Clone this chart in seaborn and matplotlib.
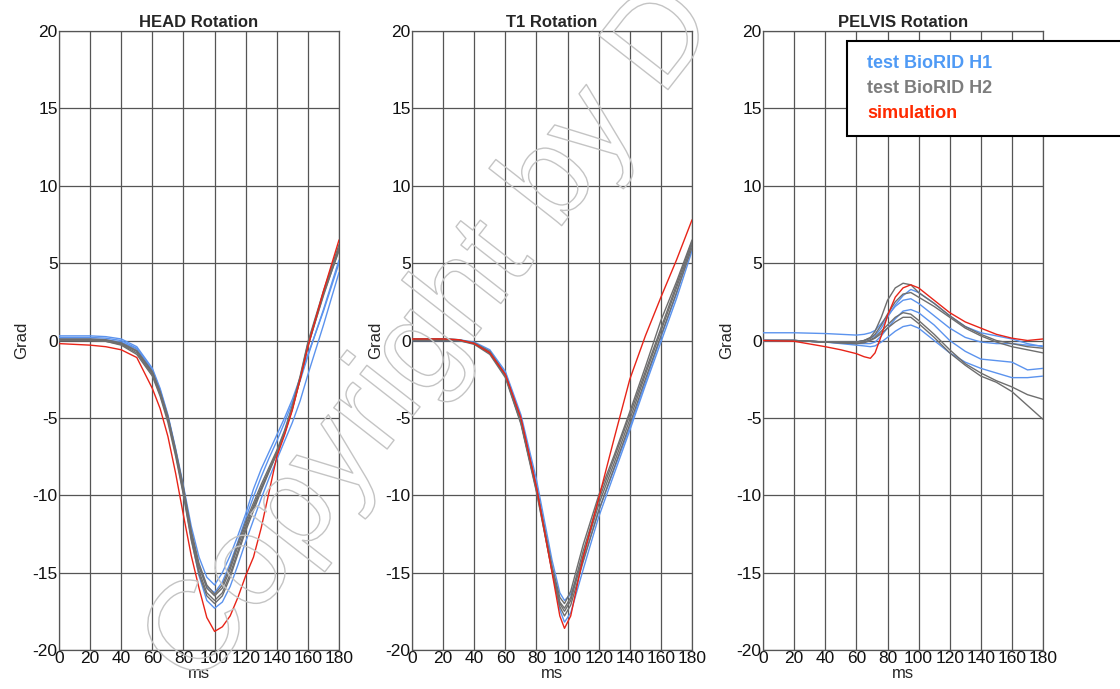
import seaborn as sns
import matplotlib.pyplot as plt
import matplotlib.patheffects as pe
from matplotlib.patches import Rectangle
import pandas as pd

# curve values (ms, Grad)
head_ms = [0, 20, 30, 40, 50, 60, 65, 70, 75, 80, 85, 90, 95, 100, 105, 110, 115, 120, 125, 130, 135, 140, 145, 150, 155, 160, 170, 180]
head_sim = [-0.2, -0.3, -0.4, -0.6, -1.1, -3.1, -4.4, -6.2, -8.6, -11.3, -13.9, -16.0, -17.9, -18.8, -18.5, -17.8, -16.6, -15.2, -14.0, -12.1, -9.8, -7.5, -6.1, -4.5, -2.5, -0.4, 3.2, 6.5]
head_h1 = [
    [0.3, 0.3, 0.25, 0.1, -0.4, -1.8, -3.1, -4.8, -7.0, -9.4, -12.0, -14.0, -15.3, -15.8, -15.0, -13.9, -12.6, -11.2, -9.6, -8.3, -7.2, -6.1, -5.0, -3.8, -2.4, -0.9, 1.9, 5.0],
    [0.1, 0.1, 0.05, -0.1, -0.55, -2.0, -3.3, -5.0, -7.3, -9.9, -12.8, -15.2, -16.8, -17.3, -16.9, -15.9, -14.5, -13.0, -11.6, -10.2, -8.9, -7.7, -6.5, -5.3, -3.9, -2.2, 1.0, 4.4],
    [0.2, 0.2, 0.15, 0.0, -0.5, -1.9, -3.2, -4.9, -7.1, -9.6, -12.4, -14.6, -15.9, -16.3, -15.6, -14.4, -13.0, -11.5, -10.1, -8.8, -7.6, -6.5, -5.3, -4.0, -2.6, -1.0, 2.0, 5.2],
]
head_h2 = [
    [0.05, 0.05, 0.0, -0.2, -0.7, -2.1, -3.4, -5.0, -7.2, -9.6, -12.5, -14.6, -16.0, -16.5, -16.0, -14.8, -13.3, -11.9, -10.7, -9.5, -8.4, -7.3, -6.0, -4.4, -2.5, -0.4, 3.0, 5.8],
    [0.0, 0.0, -0.05, -0.25, -0.8, -2.2, -3.5, -5.1, -7.3, -9.8, -12.7, -14.9, -16.3, -16.8, -16.3, -15.1, -13.6, -12.1, -10.8, -9.6, -8.4, -7.2, -5.9, -4.3, -2.4, -0.2, 3.1, 6.0],
    [0.0, 0.0, -0.05, -0.3, -0.9, -2.3, -3.6, -5.3, -7.5, -10.0, -12.9, -15.1, -16.5, -17.0, -16.5, -15.3, -13.8, -12.3, -11.0, -9.7, -8.5, -7.3, -6.0, -4.4, -2.5, -0.3, 2.9, 5.9],
    [0.1, 0.1, 0.05, -0.15, -0.65, -2.0, -3.3, -4.9, -7.1, -9.5, -12.3, -14.4, -15.8, -16.4, -15.8, -14.6, -13.1, -11.7, -10.5, -9.3, -8.2, -7.1, -5.8, -4.2, -2.3, -0.1, 3.2, 6.2],
]

t1_ms = [0, 20, 30, 40, 50, 60, 70, 80, 90, 95, 98, 102, 110, 120, 130, 140, 150, 160, 170, 180]
t1_sim = [0.1, 0.1, 0.05, -0.2, -0.8, -2.2, -5.0, -9.5, -15.0, -17.8, -18.6, -17.8, -14.0, -10.2, -6.3, -2.5, 0.3, 2.8, 5.2, 7.8]
t1_h1 = [
    [0.1, 0.1, 0.05, -0.1, -0.6, -2.0, -4.8, -9.0, -14.2, -16.3, -16.8, -16.4, -14.2, -11.0, -8.3, -5.6, -2.7, 0.2, 3.0, 6.3],
    [0.0, 0.0, 0.0, -0.15, -0.7, -2.1, -5.0, -9.3, -14.8, -17.4, -18.2, -17.6, -14.8, -11.4, -8.6, -5.8, -2.9, -0.1, 2.7, 5.8],
]
t1_h2 = [
    [0.1, 0.1, 0.05, -0.2, -0.8, -2.3, -5.3, -9.6, -14.6, -16.6, -17.0, -16.2, -13.2, -10.0, -7.4, -4.6, -1.7, 1.3, 3.8, 6.5],
    [0.05, 0.05, 0.0, -0.25, -0.9, -2.4, -5.4, -9.8, -14.9, -17.0, -17.5, -16.8, -13.9, -10.6, -7.9, -5.1, -2.2, 0.6, 3.4, 6.2],
    [0.0, 0.0, 0.0, -0.2, -0.8, -2.3, -5.3, -9.7, -14.9, -17.2, -17.8, -17.1, -14.3, -11.0, -8.2, -5.4, -2.5, 0.3, 3.1, 6.0],
    [0.1, 0.1, 0.05, -0.15, -0.7, -2.2, -5.2, -9.5, -14.7, -16.9, -17.3, -16.6, -13.6, -10.3, -7.6, -4.8, -2.0, 0.8, 3.6, 6.4],
]

pelvis_ms = [0, 20, 40, 50, 60, 65, 69, 72, 76, 80, 85, 90, 95, 100, 110, 120, 130, 140, 150, 160, 170, 180]
pelvis_sim = [0.0, -0.05, -0.4, -0.6, -0.85, -1.05, -1.15, -0.8, 0.3, 1.6, 2.8, 3.4, 3.6, 3.4, 2.6, 1.8, 1.2, 0.8, 0.4, 0.15, 0.0, 0.1]
pelvis_h1 = [
    [0.0, 0.0, -0.1, -0.1, -0.1, 0.0, 0.15, 0.3, 0.8, 1.5, 2.3, 2.9, 3.3, 3.1, 2.4, 1.6, 0.9, 0.5, 0.3, 0.1, -0.2, -0.4],
    [0.5, 0.5, 0.45, 0.4, 0.35, 0.4, 0.5, 0.65, 1.1, 1.6, 2.2, 2.6, 2.7, 2.4, 1.6, 0.8, 0.2, -0.1, -0.2, -0.2, -0.3, -0.35],
    [0.0, 0.0, -0.1, -0.15, -0.2, -0.2, -0.2, -0.1, 0.3, 0.8, 1.4, 1.9, 2.0, 1.8, 1.0, 0.0, -0.7, -1.2, -1.3, -1.4, -1.9, -1.8],
    [0.0, 0.0, -0.1, -0.2, -0.3, -0.35, -0.4, -0.35, -0.1, 0.2, 0.6, 0.9, 1.0, 0.8, 0.0, -0.8, -1.4, -1.8, -2.1, -2.4, -2.4, -2.3],
]
pelvis_h2 = [
    [0.0, 0.0, -0.1, -0.1, -0.1, 0.0, 0.2, 0.6, 1.5, 2.6, 3.4, 3.7, 3.6, 3.1, 2.4, 1.6, 0.9, 0.4, 0.0, -0.2, -0.4, -0.5],
    [0.0, 0.0, -0.1, -0.1, -0.1, 0.0, 0.15, 0.4, 1.0, 1.7, 2.5, 3.0, 3.1, 2.8, 2.2, 1.5, 0.8, 0.3, -0.1, -0.4, -0.6, -0.8],
    [0.0, 0.0, -0.1, -0.15, -0.2, -0.1, 0.05, 0.2, 0.6, 1.0, 1.5, 1.8, 1.7, 1.3, 0.4, -0.6, -1.5, -2.1, -2.6, -3.0, -3.5, -3.8],
    [0.0, 0.0, -0.1, -0.15, -0.2, -0.15, 0.0, 0.15, 0.45, 0.8, 1.2, 1.5, 1.5, 1.1, 0.2, -0.8, -1.6, -2.3, -2.7, -3.3, -4.2, -5.1],
]

panels = [
    ("HEAD Rotation", head_ms, head_sim, head_h1, head_h2),
    ("T1 Rotation", t1_ms, t1_sim, t1_h1, t1_h2),
    ("PELVIS Rotation", pelvis_ms, pelvis_sim, pelvis_h1, pelvis_h2),
]

labels = ["test BioRID H1", "test BioRID H2", "simulation"]
colors = {"test BioRID H1": "#5b93ee", "test BioRID H2": "#6e6e6e", "simulation": "#e82418"}
text_colors = ["#4f9af5", "#7d7d7d", "#ff2a00"]


def make_frame(ms, sim, h1, h2):
    rows = []
    for i, curve in enumerate(h1):
        for x, y in zip(ms, curve):
            rows.append(("test BioRID H1", "h1_%d" % i, x, y))
    for i, curve in enumerate(h2):
        for x, y in zip(ms, curve):
            rows.append(("test BioRID H2", "h2_%d" % i, x, y))
    for x, y in zip(ms, sim):
        rows.append(("simulation", "sim", x, y))
    return pd.DataFrame(rows, columns=["group", "curve", "ms", "Grad"])


sns.set_style("white")
plt.rcParams["font.family"] = ["Liberation Sans", "DejaVu Sans"]
plt.rcParams["axes.unicode_minus"] = False

fig = plt.figure(figsize=(11.2, 6.89), dpi=100)
lefts = [0.0527, 0.3679, 0.6813]

for left, (title, ms, sim, h1, h2) in zip(lefts, panels):
    ax = fig.add_axes([left, 0.0566, 0.25, 0.8984])
    df = make_frame(ms, sim, h1, h2)
    sns.lineplot(data=df, x="ms", y="Grad", hue="group", units="curve",
                 estimator=None, palette=colors, linewidth=1.0,
                 hue_order=labels, legend=False, ax=ax, zorder=3)
    ax.set_xlim(0, 180)
    ax.set_ylim(-20, 20)
    ax.set_xticks(range(0, 181, 20))
    ax.set_yticks(range(-20, 21, 5))
    ax.grid(True, color="#555555", linewidth=0.9)
    for s in ax.spines.values():
        s.set_color("#555555")
        s.set_linewidth(0.9)
    ax.tick_params(length=0, pad=1, labelsize=12.5, colors="#111111")
    ax.set_title(title, fontsize=12, fontweight="bold", pad=3)
    ax.set_xlabel("ms", fontsize=12, labelpad=0)
    ax.set_ylabel("Grad", fontsize=12, labelpad=2)

# legend box
fig.patches.append(Rectangle((847 / 1120, 1 - 136 / 689), 0.3, 95 / 689,
                             transform=fig.transFigure, facecolor="white",
                             edgecolor="black", linewidth=1.5, zorder=5))
for i, (lab, c) in enumerate(zip(labels, text_colors)):
    fig.text(867 / 1120, 1 - (64 + 24.5 * i) / 689, lab, color=c,
             fontsize=13, fontweight="bold", va="center", zorder=6)

# watermark
fig.text(432 / 1120, 1 - 338 / 689, "Copyright by D", fontsize=92,
         rotation=52, ha="center", va="center", color=(1, 1, 1, 0),
         path_effects=[pe.Stroke(linewidth=1.0, foreground="#c4c4c4")],
         zorder=10)

plt.savefig("out.png", dpi=100)
